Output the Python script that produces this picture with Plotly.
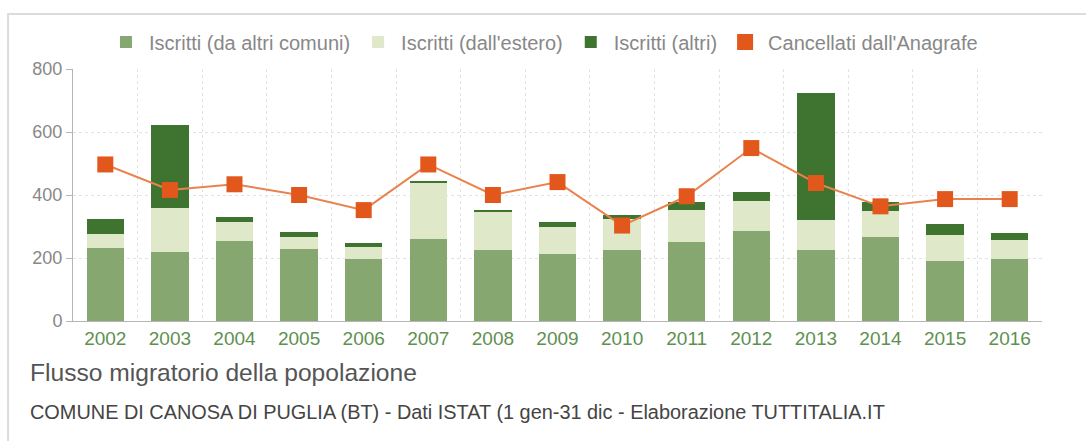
import plotly.graph_objects as go

anni = ["2002", "2003", "2004", "2005", "2006", "2007", "2008", "2009",
        "2010", "2011", "2012", "2013", "2014", "2015", "2016"]

iscritti_comuni = [231, 218, 254, 230, 197, 260, 225, 213, 227, 250, 287, 227, 266, 190, 198]
iscritti_estero = [44, 142, 61, 37, 39, 179, 122, 87, 97, 103, 95, 95, 82, 84, 60]
iscritti_altri = [50, 261, 14, 15, 13, 6, 3, 13, 14, 25, 28, 401, 29, 35, 22]
cancellati = [497, 416, 434, 400, 352, 497, 400, 441, 303, 396, 549, 438, 364, 387, 387]

FONT = "Liberation Sans, Arial, sans-serif"
ORANGE = "#e2581c"
BAR_W = 0.58

fig = go.Figure()

fig.add_trace(go.Bar(x=anni, y=iscritti_comuni, name="Iscritti (da altri comuni)",
                     marker=dict(color="#86a870", line=dict(width=0)), width=BAR_W))
fig.add_trace(go.Bar(x=anni, y=iscritti_estero, name="Iscritti (dall'estero)",
                     marker=dict(color="#dfe8c8", line=dict(width=0)), width=BAR_W))
fig.add_trace(go.Bar(x=anni, y=iscritti_altri, name="Iscritti (altri)",
                     marker=dict(color="#3e7330", line=dict(width=0)), width=BAR_W))

# line drawn separately so the legend only shows the square marker
fig.add_trace(go.Scatter(x=anni, y=cancellati, mode="lines", showlegend=False,
                         line=dict(color="#e9834e", width=2), hoverinfo="skip"))
fig.add_trace(go.Scatter(x=anni, y=cancellati, mode="markers", name="Cancellati dall'Anagrafe",
                         marker=dict(symbol="square", size=16, color=ORANGE)))

fig.update_layout(
    width=1086,
    height=441,
    barmode="stack",
    plot_bgcolor="white",
    paper_bgcolor="white",
    font=dict(family=FONT, color="#888"),
    margin=dict(l=73, r=44, t=69, b=120),
    legend=dict(orientation="h", x=0.485, xanchor="center", y=1.107, yanchor="middle",
                font=dict(size=20, color="#888"), traceorder="normal", itemwidth=36),
    showlegend=True,
)

fig.update_xaxes(
    type="category",
    range=[-0.5, 14.5],
    tickson="boundaries",
    automargin=False,
    showgrid=True,
    gridcolor="#e2e2e2",
    griddash="dot",
    showline=True,
    linecolor="#b5b5b5",
    ticks="",
    tickfont=dict(size=19, color="#5e9050", family=FONT),
)
fig.update_yaxes(
    range=[0, 800],
    dtick=200,
    automargin=False,
    showgrid=True,
    gridcolor="#e2e2e2",
    griddash="dot",
    zeroline=False,
    showline=True,
    linecolor="#b5b5b5",
    ticks="outside",
    ticklen=6,
    tickcolor="#b5b5b5",
    tickfont=dict(size=18, color="#888", family=FONT),
)

# outer frame of the widget
fig.add_shape(type="rect", xref="paper", yref="paper",
              x0=-0.067, x1=1.1, y0=-0.6, y1=1.218,
              line=dict(color="#dcdcdc", width=2), fillcolor="rgba(0,0,0,0)", layer="below")

fig.add_annotation(text="Flusso migratorio della popolazione", xref="paper", yref="paper",
                   x=-0.0464, y=-0.206, xanchor="left", yanchor="middle", showarrow=False,
                   font=dict(size=24.6, color="#555", family=FONT))
fig.add_annotation(text="COMUNE DI CANOSA DI PUGLIA (BT) - Dati ISTAT (1 gen-31 dic - Elaborazione TUTTITALIA.IT",
                   xref="paper", yref="paper",
                   x=-0.0464, y=-0.361, xanchor="left", yanchor="middle", showarrow=False,
                   font=dict(size=19.9, color="#444", family=FONT))

# page body has a default margin; remove it so the figure sits at the window origin
fig.write_html("out.html", config={"displayModeBar": False},
               post_script="document.body.style.margin='0';")
